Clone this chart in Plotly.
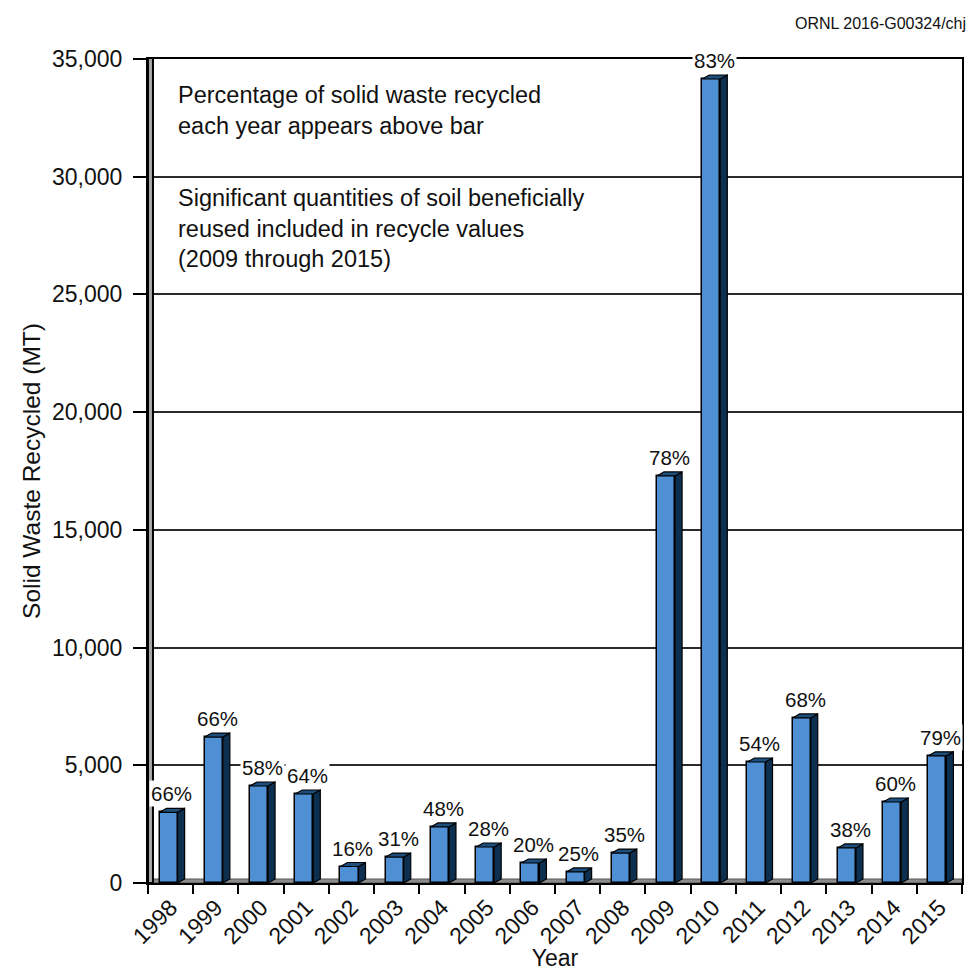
import plotly.graph_objects as go

# Solid waste recycled per year (metric tons) and recycling percentage
years = ["1998", "1999", "2000", "2001", "2002", "2003", "2004", "2005", "2006",
         "2007", "2008", "2009", "2010", "2011", "2012", "2013", "2014", "2015"]
recycled_mt = [3000, 6200, 4120, 3780, 700, 1100, 2380, 1530, 850,
               470, 1270, 17290, 34150, 5140, 7010, 1490, 3440, 5400]
percent_recycled = [66, 66, 58, 64, 16, 31, 48, 28, 20,
                    25, 35, 78, 83, 54, 68, 38, 60, 79]
y_ticks = [0, 5000, 10000, 15000, 20000, 25000, 30000, 35000]

FONT = "Liberation Sans, Arial, sans-serif"
FRONT = "#4F8FD4"
SIDE = "#0D3050"
TOP = "#1D4F7C"

# pseudo-3D geometry (x in category units, y in data units)
bar_w = 0.40
bar_off = -0.245
dx = 0.155
dy = 170

xs = list(range(len(years)))

# side and top faces built from the bar values
side_x, side_y, top_x, top_y = [], [], [], []
for i, v in zip(xs, recycled_mt):
    x0 = i + bar_off
    x1 = x0 + bar_w
    side_x += [x1, x1, x1 + dx, x1 + dx, x1, None]
    side_y += [0, v, v + dy, dy, 0, None]
    top_x += [x0, x1, x1 + dx, x0 + dx, x0, None]
    top_y += [v, v, v + dy, v + dy, v, None]

fig = go.Figure()
fig.add_trace(go.Bar(
    x=xs, y=recycled_mt, width=bar_w, offset=bar_off,
    marker=dict(color=FRONT, line=dict(color="black", width=1.5)),
    hoverinfo="skip", showlegend=False,
))
fig.add_trace(go.Scatter(
    x=side_x, y=side_y, mode="lines", fill="toself", fillcolor=SIDE,
    line=dict(color="black", width=1.2), hoverinfo="skip", showlegend=False,
))
fig.add_trace(go.Scatter(
    x=top_x, y=top_y, mode="lines", fill="toself", fillcolor=TOP,
    line=dict(color="black", width=1.2), hoverinfo="skip", showlegend=False,
))

# percentage labels above each bar
for i, v, p in zip(xs, recycled_mt, percent_recycled):
    fig.add_annotation(
        x=i + 0.03, y=v + dy, text=f"{p}%", showarrow=False,
        yanchor="bottom", yshift=1, bgcolor="white", borderpad=1,
        font=dict(family=FONT, size=20.5, color="#111"),
    )

notes = [
    ("Percentage of solid waste recycled<br>each year appears above bar", 34100),
    ("Significant quantities of soil beneficially<br>reused included in recycle values"
     "<br>(2009 through 2015)", 29750),
]
for txt, yv in notes:
    fig.add_annotation(
        x=-0.5, xshift=28, y=yv, text=txt, showarrow=False, align="left",
        xanchor="left", yanchor="top",
        font=dict(family=FONT, size=23.5, color="#111"),
    )

fig.add_annotation(
    xref="paper", yref="paper", x=1.0, xshift=6, y=1.0, yshift=36,
    text="ORNL 2016-G00324/chj", showarrow=False, xanchor="right",
    yanchor="middle", font=dict(family=FONT, size=16, color="#111"),
)

# floor strip and left wall of the 3-D frame
fig.add_shape(type="rect", xref="x", yref="y", x0=-0.5, x1=17.5, y0=0, y1=dy,
              fillcolor="#8c8c8c", line=dict(color="#555", width=1), layer="between")
fig.add_shape(type="rect", xref="x", yref="y", x0=-0.5, x1=-0.5 + 0.11, y0=0, y1=35250,
              fillcolor="#a8a8a8", line=dict(color="black", width=2), layer="between")

fig.update_layout(
    width=969, height=971,
    margin=dict(l=148, r=7, t=59, b=88),
    plot_bgcolor="white", paper_bgcolor="white",
    bargap=0,
    font=dict(family=FONT, color="#111"),
    xaxis=dict(
        range=[-0.5, 17.5], tickmode="array", tickvals=xs, ticktext=years,
        tickangle=-45, ticks="", showgrid=False, zeroline=False,
        showline=True, linecolor="black", linewidth=2, mirror=True,
        automargin=False,
        tickfont=dict(family=FONT, size=23, color="#111"),
        title=dict(text="Year", font=dict(family=FONT, size=23, color="#111"), standoff=2),
        minor=dict(ticks="outside", tick0=-0.5, dtick=1, ticklen=9,
                   tickcolor="black", tickwidth=1.5, showgrid=False),
        fixedrange=True,
    ),
    yaxis=dict(
        range=[0, 35000], tickmode="array", tickvals=y_ticks,
        ticktext=[f"{t:,}" for t in y_ticks],
        ticks="outside", ticklen=13, tickcolor="black", tickwidth=1.5,
        ticklabelstandoff=6, automargin=False,
        showgrid=True, gridcolor="#2b2b2b", gridwidth=2, zeroline=False,
        showline=True, linecolor="black", linewidth=2, mirror=True,
        tickfont=dict(family=FONT, size=23, color="#111"),
        title=dict(text="Solid Waste Recycled (MT)",
                   font=dict(family=FONT, size=24.5, color="#111"), standoff=4),
        fixedrange=True,
    ),
)

fig.write_html("out.html")
